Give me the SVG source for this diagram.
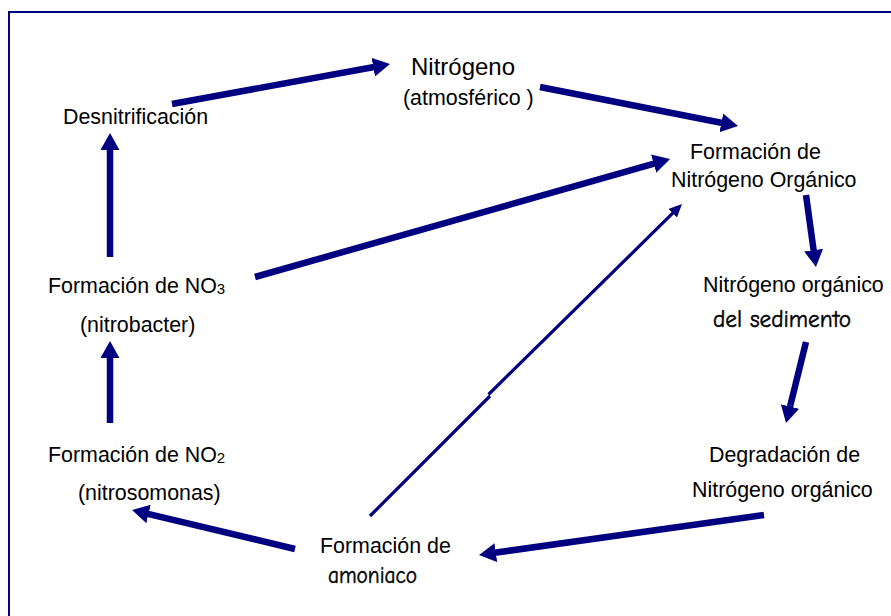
<svg xmlns="http://www.w3.org/2000/svg" width="891" height="616" viewBox="0 0 891 616">
<style>
.t{font-family:"Liberation Sans",Arial,sans-serif;font-size:21.4px;fill:#000}
.c{font-family:"Comic Sans MS","Comic Neue","DejaVu Sans",sans-serif;font-size:24px;fill:#000;stroke:#000;stroke-width:0.5}
.a{stroke:#000080;stroke-width:6.5;fill:none;marker-end:url(#h)}
.a2{stroke:#000080;stroke-width:3.2;fill:none;marker-end:url(#h2)}
</style>
<defs>
<marker id="h" viewBox="0 0 17 19" refX="5" refY="9.5" markerWidth="17" markerHeight="19" markerUnits="userSpaceOnUse" orient="auto">
<path d="M0,0 L17,9.5 L0,19 Z" fill="#000080"/>
</marker>
<marker id="h2" viewBox="0 0 13 12" refX="5" refY="6" markerWidth="13" markerHeight="12" markerUnits="userSpaceOnUse" orient="auto">
<path d="M0,0 L13,6 L0,12 Z" fill="#000080"/>
</marker>
</defs>
<rect x="0" y="0" width="891" height="616" fill="#fff"/>
<rect x="9" y="12" width="1000" height="1000" fill="none" stroke="#000080" stroke-width="2"/>

<g id="connectors">
<line class="a" x1="172" y1="104" x2="378.2" y2="66.2"/>
<line class="a" x1="540" y1="87" x2="726.2" y2="123.7"/>
<line class="a" x1="255" y1="277" x2="658.5" y2="162.3"/>
<path class="a2" d="M370,516 L490,396 M488.5,394.5 L676.3,209.7"/>
<line class="a" x1="806" y1="195" x2="814.3" y2="255.1"/>
<line class="a" x1="806" y1="342" x2="788.9" y2="411.3"/>
<line class="a" x1="764" y1="515" x2="490.9" y2="553.3"/>
<line class="a" x1="295" y1="549" x2="143.7" y2="512.8"/>
<line class="a" x1="110" y1="423" x2="110" y2="353"/>
<line class="a" x1="110" y1="257" x2="110" y2="145"/>
</g>

<g id="n-nitrogeno">
<text class="t" x="411" y="75" style="font-size:24px">Nitrógeno</text>
<text class="t" x="403" y="105">(atmosférico )</text>
</g>
<g id="n-desnitrificacion">
<text class="t" x="63" y="124">Desnitrificación</text>
</g>
<g id="n-formacion-organico">
<text class="t" x="690" y="159">Formación de</text>
<text class="t" x="671" y="187">Nitrógeno Orgánico</text>
</g>
<g id="n-sedimento">
<text class="t" x="703" y="292">Nitrógeno orgánico</text>
<text class="c" x="713" y="327" textLength="138" lengthAdjust="spacingAndGlyphs">del sedimento</text>
</g>
<g id="n-degradacion">
<text class="t" x="709" y="462">Degradación de</text>
<text class="t" x="692" y="497">Nitrógeno orgánico</text>
</g>
<g id="n-amoniaco">
<text class="t" x="320" y="553">Formación de</text>
<text class="c" x="328" y="583" textLength="89" lengthAdjust="spacingAndGlyphs">amoniaco</text>
</g>
<g id="n-no2">
<text class="t" x="48" y="462">Formación de NO<tspan style="font-size:15px" dy="1">2</tspan></text>
<text class="t" x="78" y="500">(nitrosomonas)</text>
</g>
<g id="n-no3">
<text class="t" x="48" y="293">Formación de NO<tspan style="font-size:15px" dy="1">3</tspan></text>
<text class="t" x="80" y="332">(nitrobacter)</text>
</g>
</svg>
